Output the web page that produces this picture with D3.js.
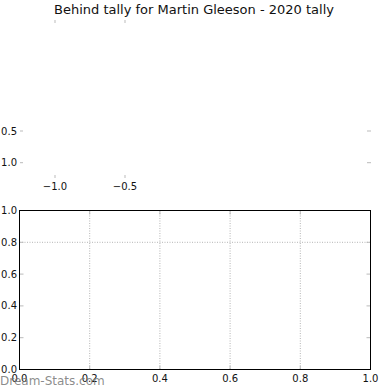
<html>
<head>
<meta charset="utf-8">
<script src="https://cdn.jsdelivr.net/npm/d3@7"></script>
<style>
    body { margin: 0; background: #fff; }
    text { font-family: "DejaVu Sans", sans-serif; }
</style>
</head>
<body>
<svg id="container" width="390" height="390"></svg>
<script>
    // chart title
    let title = "Behind tally for Martin Gleeson - 2020 tally"

    // empty upper axes (only a few ticks survive)
    let topXTicks = [-1.0, -0.5]
    let topYTicks = [0.5, 1.0]

    // lower axes ticks and grid
    let ticks = [0.0, 0.2, 0.4, 0.6, 0.8, 1.0]
    let gridX = [0.2, 0.4, 0.6, 0.8]
    let gridY = [0.8]

    let svg = d3.select("#container")
    let fmt = d => d3.format(".1f")(d).replace("-", "\u2212")
    let tickColor = "#bbbbbb"

    // title
    svg.append("text")
        .attr("x", 194).attr("y", 14)
        .attr("text-anchor", "middle")
        .attr("font-size", 13)
        .attr("fill", "#111")
        .text(title)

    // ---- upper (blank) axes ----
    let tx = d3.scaleLinear().domain([-1.0, -0.5]).range([55, 125])
    let ty = d3.scaleLinear().domain([0.5, 1.0]).range([131, 162.7])
    let upper = svg.append("g")

    // x ticks top + bottom
    upper.selectAll(".xt").data(topXTicks).enter().append("line")
        .attr("x1", d => tx(d)).attr("x2", d => tx(d))
        .attr("y1", 20).attr("y2", 23)
        .attr("stroke", tickColor)
    upper.selectAll(".xb").data(topXTicks).enter().append("line")
        .attr("x1", d => tx(d)).attr("x2", d => tx(d))
        .attr("y1", 175).attr("y2", 178)
        .attr("stroke", tickColor)
    upper.selectAll(".xl").data(topXTicks).enter().append("text")
        .attr("x", d => tx(d)).attr("y", 190)
        .attr("text-anchor", "middle")
        .attr("font-size", 10)
        .attr("fill", "#111")
        .text(fmt)

    // y ticks left + right
    upper.selectAll(".yl").data(topYTicks).enter().append("line")
        .attr("x1", 20).attr("x2", 23)
        .attr("y1", d => ty(d)).attr("y2", d => ty(d))
        .attr("stroke", tickColor)
    upper.selectAll(".yr").data(topYTicks).enter().append("line")
        .attr("x1", 367).attr("x2", 371)
        .attr("y1", d => ty(d)).attr("y2", d => ty(d))
        .attr("stroke", tickColor)
    upper.selectAll(".ylab").data(topYTicks).enter().append("text")
        .attr("x", 17).attr("y", d => ty(d) + 3.5)
        .attr("text-anchor", "end")
        .attr("font-size", 10)
        .attr("fill", "#111")
        .text(fmt)

    // ---- lower axes ----
    let x = d3.scaleLinear().domain([0, 1]).range([19.5, 370.5])
    let y = d3.scaleLinear().domain([0, 1]).range([369.5, 210.5])
    let body = svg.append("g")

    // grid
    body.selectAll(".gx").data(gridX).enter().append("line")
        .attr("x1", d => x(d)).attr("x2", d => x(d))
        .attr("y1", y(1)).attr("y2", y(0))
        .attr("stroke", "#b4b4b4")
        .attr("stroke-dasharray", "1,1.5")
    body.selectAll(".gy").data(gridY).enter().append("line")
        .attr("x1", x(0)).attr("x2", x(1))
        .attr("y1", d => y(d)).attr("y2", d => y(d))
        .attr("stroke", "#b4b4b4")
        .attr("stroke-dasharray", "1,1.5")

    // inward ticks on all four sides
    body.selectAll(".tb").data(ticks).enter().append("line")
        .attr("x1", d => x(d)).attr("x2", d => x(d))
        .attr("y1", y(0)).attr("y2", y(0) - 4)
        .attr("stroke", tickColor)
    body.selectAll(".tt").data(ticks).enter().append("line")
        .attr("x1", d => x(d)).attr("x2", d => x(d))
        .attr("y1", y(1)).attr("y2", y(1) + 4)
        .attr("stroke", tickColor)
    body.selectAll(".tl").data(ticks).enter().append("line")
        .attr("x1", x(0)).attr("x2", x(0) + 4)
        .attr("y1", d => y(d)).attr("y2", d => y(d))
        .attr("stroke", tickColor)
    body.selectAll(".tr").data(ticks).enter().append("line")
        .attr("x1", x(1)).attr("x2", x(1) - 4)
        .attr("y1", d => y(d)).attr("y2", d => y(d))
        .attr("stroke", tickColor)

    // frame
    body.append("rect")
        .attr("x", x(0)).attr("y", y(1))
        .attr("width", x(1) - x(0)).attr("height", y(0) - y(1))
        .attr("fill", "none")
        .attr("stroke", "#000")

    // tick labels
    body.selectAll(".xlab").data(ticks).enter().append("text")
        .attr("x", d => x(d)).attr("y", 382)
        .attr("text-anchor", "middle")
        .attr("font-size", 10)
        .attr("fill", "#111")
        .text(fmt)
    body.selectAll(".ylab").data(ticks).enter().append("text")
        .attr("x", 17).attr("y", d => y(d) + 3.5)
        .attr("text-anchor", "end")
        .attr("font-size", 10)
        .attr("fill", "#111")
        .text(fmt)

    // watermark
    svg.append("text")
        .attr("x", 0).attr("y", 385)
        .attr("font-size", 12)
        .attr("fill", "#777")
        .attr("fill-opacity", 0.85)
        .text("Dream-Stats.com")
</script>
</body>
</html>
